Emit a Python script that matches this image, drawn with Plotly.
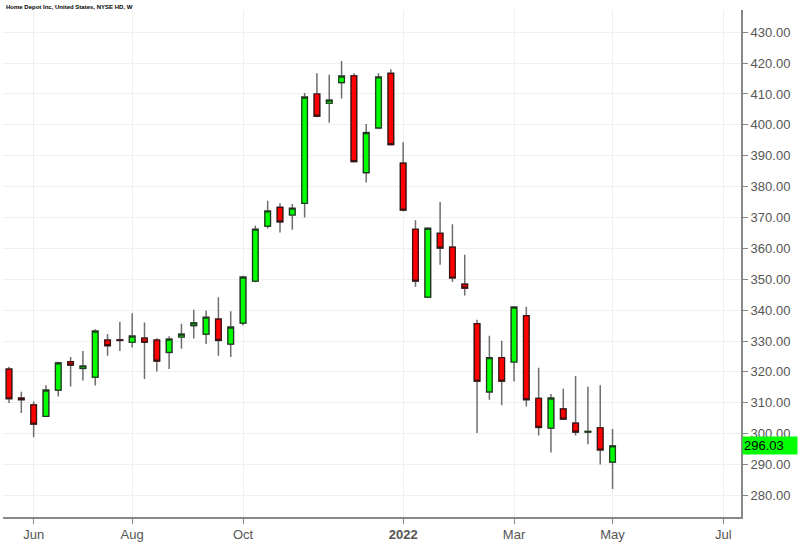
import plotly.graph_objects as go

title_text = "Home Depot Inc, United States, NYSE HD, W"

dates = ["2021-05-24", "2021-05-31", "2021-06-07", "2021-06-14", "2021-06-21", "2021-06-28",
         "2021-07-05", "2021-07-12", "2021-07-19", "2021-07-26", "2021-08-02", "2021-08-09",
         "2021-08-16", "2021-08-23", "2021-08-30", "2021-09-06", "2021-09-13", "2021-09-20",
         "2021-09-27", "2021-10-04", "2021-10-11", "2021-10-18", "2021-10-25", "2021-11-01",
         "2021-11-08", "2021-11-15", "2021-11-22", "2021-11-29", "2021-12-06", "2021-12-13",
         "2021-12-20", "2021-12-27", "2022-01-03", "2022-01-10", "2022-01-17", "2022-01-24",
         "2022-01-31", "2022-02-07", "2022-02-14", "2022-02-21", "2022-02-28", "2022-03-07",
         "2022-03-14", "2022-03-21", "2022-03-28", "2022-04-04", "2022-04-11", "2022-04-18",
         "2022-04-25", "2022-05-02"]

opens = [320.9, 311.5, 309.3, 305.6, 314.1, 323.3, 321.1, 318.3, 330.3, 330.4,
         329.6, 330.9, 330.3, 326.3, 331.3, 335.0, 332.2, 337.1, 329.0, 335.8,
         349.4, 367.2, 373.3, 370.8, 374.6, 410.0, 407.0, 413.7, 415.9, 384.5,
         399.0, 416.7, 387.6, 366.2, 344.2, 364.9, 360.4, 348.4, 335.6, 313.5,
         324.6, 323.2, 338.2, 311.4, 301.8, 308.0, 303.4, 300.5, 301.9, 290.8]
highs = [321.7, 313.6, 310.4, 315.7, 323.3, 324.8, 326.8, 333.8, 332.3, 336.2,
         339.0, 336.0, 330.9, 331.5, 335.6, 340.1, 339.9, 344.2, 339.6, 351.1,
         367.3, 375.4, 374.6, 374.4, 410.3, 416.7, 416.2, 420.7, 416.7, 400.3,
         416.7, 418.0, 394.4, 369.1, 366.8, 375.0, 367.8, 357.9, 336.9, 331.7,
         330.1, 341.2, 341.1, 321.3, 312.8, 314.5, 318.7, 315.2, 315.7, 301.5]
lows = [309.9, 306.7, 298.8, 305.4, 312.0, 315.3, 317.2, 315.6, 325.2, 326.8,
        327.9, 317.7, 320.1, 320.9, 327.5, 330.8, 329.0, 325.2, 324.8, 335.0,
        349.0, 366.4, 365.1, 366.0, 370.0, 402.5, 400.7, 408.5, 387.8, 381.3,
        398.6, 393.3, 372.0, 347.6, 344.0, 354.7, 349.1, 344.7, 300.2, 311.0,
        309.2, 316.9, 308.8, 299.4, 293.9, 304.5, 299.4, 296.6, 290.0, 282.1]
closes = [311.3, 311.0, 303.1, 314.1, 322.9, 322.2, 321.9, 333.2, 328.5, 330.2,
          331.6, 329.6, 323.5, 330.6, 332.2, 335.9, 337.7, 330.2, 334.5, 350.7,
          366.2, 372.1, 368.6, 373.0, 409.0, 402.8, 408.0, 415.8, 388.1, 397.5,
          415.5, 393.6, 372.4, 349.4, 366.5, 360.1, 350.4, 347.1, 317.0, 324.6,
          317.0, 341.0, 311.0, 302.0, 311.5, 304.7, 300.5, 300.7, 294.7, 296.03]

tick_dates = ["2021-06-07", "2021-08-02", "2021-10-04", "2022-01-03", "2022-03-07", "2022-05-02", "2022-07-04"]
tick_labels = ["Jun", "Aug", "Oct", "<b>2022</b>", "Mar", "May", "Jul"]
y_ticks = [280, 290, 300, 310, 320, 330, 340, 350, 360, 370, 380, 390, 400, 410, 420, 430]

GREEN = "#00ff00"
RED = "#ff0000"

body_hi = [max(o, c) for o, c in zip(opens, closes)]
body_lo = [min(o, c) for o, c in zip(opens, closes)]

fig = go.Figure()
# wicks (gray)
fig.add_trace(go.Candlestick(
    x=dates, open=opens, high=highs, low=lows, close=closes,
    increasing=dict(fillcolor=GREEN, line=dict(color="#6e6e6e", width=1.5)),
    decreasing=dict(fillcolor=RED, line=dict(color="#6e6e6e", width=1.5)),
    showlegend=False, hoverinfo="skip", whiskerwidth=0,
))
# bodies with dark outline
fig.add_trace(go.Candlestick(
    x=dates, open=opens, high=body_hi, low=body_lo, close=closes,
    increasing=dict(fillcolor=GREEN, line=dict(color="#1e3a1e", width=1.2)),
    decreasing=dict(fillcolor=RED, line=dict(color="#3a1010", width=1.2)),
    showlegend=False, whiskerwidth=0,
))

last_close = closes[-1]

fig.update_layout(
    width=800, height=544,
    margin=dict(l=3, r=59, t=10, b=27),
    plot_bgcolor="white", paper_bgcolor="white",
    font=dict(family="Liberation Sans, Arial, sans-serif", color="#555555", size=13),
    showlegend=False,
    boxgap=0.35,
    xaxis=dict(
        type="date",
        range=["2021-05-20 14:00", "2022-07-14"],
        rangeslider=dict(visible=False),
        tickvals=tick_dates, ticktext=tick_labels,
        showgrid=True, gridcolor="#f0f0f0", gridwidth=1,
        showline=True, linecolor="#888888", linewidth=1.5,
        ticks="outside", ticklen=5, tickcolor="#888888",
        tickfont=dict(size=13, color="#555555"),
        zeroline=False,
    ),
    yaxis=dict(
        side="right",
        range=[273.0, 437.2],
        tickvals=y_ticks, ticktext=[f"{v:.2f}" for v in y_ticks],
        showgrid=True, gridcolor="#f0f0f0", gridwidth=1,
        showline=True, linecolor="#888888", linewidth=2,
        ticks="outside", ticklen=5, tickcolor="#888888",
        tickfont=dict(size=13, color="#555555"),
        zeroline=False,
    ),
    annotations=[
        dict(text=f"<b>{title_text}</b>", xref="paper", yref="paper", x=0.002, y=1.0,
             xanchor="left", yanchor="bottom", showarrow=False, yshift=-2,
             font=dict(size=6, color="#000000")),
        dict(text=f"{last_close:.2f}", xref="paper", yref="y", x=1.0, y=last_close,
             xanchor="left", yanchor="middle", showarrow=False, bgcolor=GREEN,
             width=52, height=15, align="left", xshift=1,
             font=dict(size=13, color="#000000")),
    ],
)

fig.write_html("out.html")
